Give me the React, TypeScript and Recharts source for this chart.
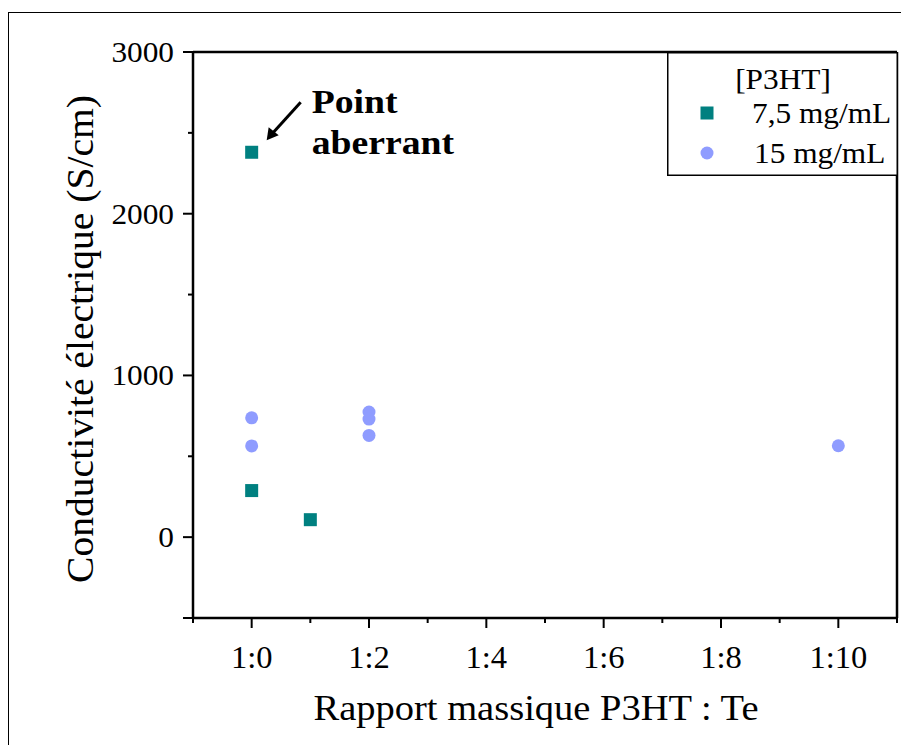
import React from "react"
import { ScatterChart, Scatter, XAxis, YAxis, Legend, ReferenceDot, Label } from "recharts"

// P3HT : Te ratio (1:x) and conductivity (S/cm)
const ratios75 = [0, 0, 1]
const cond75 = [2380, 288, 108]
const ratios15 = [0, 0, 2, 2, 2, 10]
const cond15 = [738, 564, 774, 730, 629, 565]

const seriesNames = ["7,5 mg/mL", "15 mg/mL"]
const legendTitle = "[P3HT]"
const xTicks = [-1, 0, 1, 2, 3, 4, 5, 6, 7, 8, 9, 10, 11]
const yTicks = [-500, 0, 500, 1000, 1500, 2000, 2500, 3000]
const xTitle = "Rapport massique  P3HT : Te"
const yTitle = "Conductivité électrique (S/cm)"
const outlier = { x: 0, y: 2380, text: ["Point", "aberrant"] }

const TEAL = "#008080"
const BLUE = "#8f9cff"
const FONT = "'Liberation Serif', 'Times New Roman', serif"

const data75 = ratios75.map((x, i) => ({ x, y: cond75[i] }))
const data15 = ratios15.map((x, i) => ({ x, y: cond15[i] }))

// the source fonts are a bit wider than Liberation Serif, so stretch horizontally
function SText({ x, y, sx = 1.08, rotate = 0, children, ...rest }: any) {
  return (
    <text
      x={0}
      y={0}
      transform={`translate(${x},${y}) rotate(${rotate}) scale(${sx},1)`}
      fontFamily={FONT}
      fill="#000"
      {...rest}
    >
      {children}
    </text>
  )
}

function XTick(props: any) {
  const { x, y, payload } = props
  const v = payload.value
  const major = v >= 0 && v <= 10 && v % 2 === 0
  return (
    <g>
      <line x1={x} x2={x} y1={y} y2={y + (major ? 10 : 5)} stroke="#000" strokeWidth={2} />
      {major && (
        <SText x={x} y={y + 50} sx={1.05} textAnchor="middle" fontSize={31}>
          {`1:${v}`}
        </SText>
      )}
    </g>
  )
}

function YTick(props: any) {
  const { x, y, payload } = props
  const v = payload.value
  const labeled = v % 1000 === 0
  const long = labeled || v === -500
  return (
    <g>
      <line x1={x - (long ? 10 : 5)} x2={x} y1={y} y2={y} stroke="#000" strokeWidth={2} />
      {labeled && (
        <SText x={x - 19} y={y + 10} textAnchor="end" fontSize={29}>
          {v}
        </SText>
      )}
    </g>
  )
}

const Square = (p: any) => <rect x={p.cx - 6.5} y={p.cy - 6.5} width={13} height={13} fill={TEAL} />
const Dot = (p: any) => <circle cx={p.cx} cy={p.cy} r={6.5} fill={BLUE} />

function Annotation(p: any) {
  const { cx, cy } = p
  const tipX = cx + 15
  const tipY = cy - 12
  return (
    <g>
      <line x1={cx + 49} y1={cy - 50} x2={tipX + 5} y2={tipY - 6} stroke="#000" strokeWidth={3} />
      <polygon
        points={`${tipX},${tipY} ${tipX + 2},${tipY - 13} ${tipX + 12},${tipY - 5}`}
        fill="#000"
      />
      <SText x={cx + 60} y={cy - 39} sx={1.11} fontSize={34} fontWeight="bold">
        {outlier.text[0]}
      </SText>
      <SText x={cx + 60} y={cy + 2} sx={1.11} fontSize={34} fontWeight="bold">
        {outlier.text[1]}
      </SText>
    </g>
  )
}

function LegendBox() {
  return (
    <svg width={231} height={124} style={{ display: "block" }}>
      <rect x={0.75} y={0.75} width={229.5} height={122.5} fill="#fff" stroke="#000" strokeWidth={1.5} />
      <SText x={116} y={37} textAnchor="middle" fontSize={29}>
        {legendTitle}
      </SText>
      <rect x={33.5} y={54.5} width={13} height={13} fill={TEAL} />
      <SText x={85} y={71} fontSize={29}>{seriesNames[0]}</SText>
      <circle cx={40} cy={101} r={6.5} fill={BLUE} />
      <SText x={87} y={111} fontSize={29}>{seriesNames[1]}</SText>
    </svg>
  )
}

export default function App() {
  return (
    <div style={{ position: "absolute", left: 0, top: 0, width: 901, height: 745, background: "#fff", overflow: "hidden" }}>
      <div
        style={{
          position: "absolute",
          left: 8,
          top: 12,
          width: 900,
          height: 740,
          borderLeft: "1.5px solid #000",
          borderTop: "1.5px solid #000",
        }}
      />
      <ScatterChart
        width={901}
        height={745}
        margin={{ top: 51, right: 3, bottom: 87, left: 134 }}
        style={{ fontFamily: FONT }}
      >
        <XAxis
          dataKey="x"
          type="number"
          domain={[-1, 11]}
          ticks={xTicks}
          interval={0}
          height={40}
          tickSize={0}
          tickMargin={0}
          tickLine={false}
          tick={<XTick />}
          axisLine={{ stroke: "#000", strokeWidth: 2.5 }}
          allowDataOverflow
        >
          <Label
            content={({ viewBox }: any) => (
              <SText
                x={viewBox.x + viewBox.width / 2 - 9}
                y={viewBox.y + 102}
                sx={1.07}
                textAnchor="middle"
                fontSize={36}
              >
                {xTitle}
              </SText>
            )}
          />
        </XAxis>
        <XAxis
          xAxisId="top"
          orientation="top"
          type="number"
          domain={[-1, 11]}
          height={1}
          tick={false}
          tickLine={false}
          axisLine={{ stroke: "#000", strokeWidth: 2.5 }}
        />
        <YAxis
          dataKey="y"
          type="number"
          domain={[-500, 3000]}
          ticks={yTicks}
          interval={0}
          width={59}
          tickSize={0}
          tickMargin={0}
          tickLine={false}
          tick={<YTick />}
          axisLine={{ stroke: "#000", strokeWidth: 2.5 }}
          allowDataOverflow
        >
          <Label
            content={({ viewBox }: any) => (
              <SText
                x={viewBox.x + viewBox.width - 100}
                y={viewBox.y + viewBox.height / 2 + 4}
                rotate={-90}
                sx={1.07}
                textAnchor="middle"
                fontSize={37}
              >
                {yTitle}
              </SText>
            )}
          />
        </YAxis>
        <YAxis
          yAxisId="right"
          orientation="right"
          type="number"
          domain={[-500, 3000]}
          width={1}
          tick={false}
          tickLine={false}
          axisLine={{ stroke: "#000", strokeWidth: 2.5 }}
        />
        <Scatter name={seriesNames[0]} data={data75} shape={Square} isAnimationActive={false} />
        <Scatter name={seriesNames[1]} data={data15} shape={Dot} isAnimationActive={false} />
        <ReferenceDot x={outlier.x} y={outlier.y} r={0} shape={Annotation} />
        <Legend
          layout="vertical"
          align="center"
          verticalAlign="middle"
          wrapperStyle={{ position: "absolute", left: 667, top: 52, width: 231, height: 124 }}
          content={() => <LegendBox />}
        />
      </ScatterChart>
    </div>
  )
}
